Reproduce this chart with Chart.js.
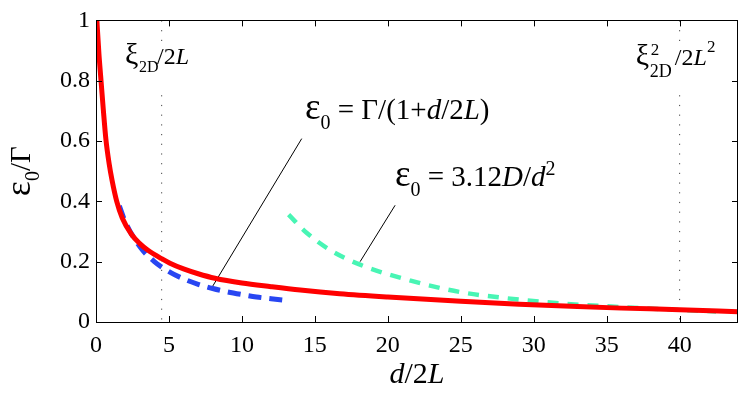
<!DOCTYPE html>
<html>
<head>
<meta charset="utf-8">
<script src="https://cdn.jsdelivr.net/npm/chart.js@4/dist/chart.umd.min.js"></script>
<style>
  html, body { margin: 0; padding: 0; background: #fff; }
  #wrap { width: 747px; height: 393px; }
</style>
</head>
<body>
<div id="wrap"><canvas id="epsChart"></canvas></div>
<script>
// d/2L values and eps0/Gamma
const fullD   = [0.06, 0.2, 0.32, 0.5, 0.68, 0.9, 1.1, 1.42, 1.8, 2.44, 3.0, 3.56, 4.5, 5.07, 6, 7, 8.15, 10, 12, 14, 16.7, 20, 25, 29, 33, 36, 40, 44];
const fullEps = [1.0, 0.89, 0.815, 0.705, 0.605, 0.525, 0.47, 0.40, 0.345, 0.29, 0.26, 0.238, 0.21, 0.195, 0.176, 0.16, 0.145, 0.129, 0.117, 0.106, 0.094, 0.083, 0.069, 0.059, 0.051, 0.046, 0.041, 0.034];

const smallD   = [1.6, 2, 3, 4, 5, 6, 7, 8, 9, 10, 11, 12, 13.3];
const smallEps = [0.385, 0.333, 0.25, 0.20, 0.167, 0.143, 0.125, 0.111, 0.10, 0.091, 0.083, 0.077, 0.070];

const largeD   = [13.2, 14.43, 16, 18.1, 21.5, 25, 28.1, 32, 35, 40, 42.5];
const largeEps = [0.356, 0.296, 0.24, 0.19, 0.138, 0.099, 0.079, 0.061, 0.052, 0.040, 0.035];

// reference lengths xi_2D/2L and xi_2D^2/2L^2
const refD = [4.5, 40];

const xTicksStep = 5;
const yTicksStep = 0.2;

// leader lines from the formula labels to the curves (data units)
const leaderA = [{x: 14.1, y: 0.608}, {x: 8.0, y: 0.119}];
const leaderB = [{x: 20.5, y: 0.387}, {x: 18.1, y: 0.200}];

const toPts = (xs, ys) => xs.map((x, i) => ({x: x, y: ys[i]}));

const SERIF = "'Liberation Serif', 'Times New Roman', serif";

Chart.defaults.font.family = SERIF;
Chart.defaults.font.size = 24;
Chart.defaults.color = '#000';

// draws a run of text pieces; a piece with "x" is placed at that offset
function rich(ctx, x, y, parts) {
  let cx = x;
  parts.forEach(p => {
    ctx.font = (p.it ? 'italic ' : '') + p.size + 'px ' + SERIF;
    if (p.x !== undefined) cx = x + p.x;
    ctx.fillText(p.t, cx, y + (p.dy || 0));
    if (!p.stack) cx += ctx.measureText(p.t).width;
  });
}

const labels = [
  { at: {x: 1.99, y: 0.855}, parts: [
    {t: 'ξ', size: 30}, {t: '2D', size: 16, dy: 8, x: 14},
    {t: '/2', size: 24, x: 32}, {t: 'L', size: 24, it: true}
  ]},
  { at: {x: 37.0, y: 0.852}, parts: [
    {t: 'ξ', size: 30}, {t: '2', size: 17, dy: -10, x: 15, stack: true}, {t: '2D', size: 18, dy: 12, x: 14},
    {t: '/2', size: 24, x: 39}, {t: 'L', size: 24, it: true}, {t: '2', size: 17, dy: -13}
  ]},
  { at: {x: 14.32, y: 0.672}, parts: [
    {t: 'ε', size: 37}, {t: '0', size: 20, dy: 10}, {t: ' = Γ/(1+', size: 29},
    {t: 'd', size: 29, it: true}, {t: '/2', size: 29}, {t: 'L', size: 29, it: true}, {t: ')', size: 29}
  ]},
  { at: {x: 20.49, y: 0.450}, parts: [
    {t: 'ε', size: 37}, {t: '0', size: 20, dy: 10}, {t: ' = 3.12', size: 29},
    {t: 'D', size: 29, it: true}, {t: '/', size: 29}, {t: 'd', size: 29, it: true}, {t: '2', size: 20, dy: -11}
  ]}
];

const decor = {
  id: 'decor',
  afterDraw(chart) {
    const ctx = chart.ctx;
    const a = chart.chartArea;
    const xs = chart.scales.x, ys = chart.scales.y;
    ctx.save();
    ctx.strokeStyle = '#000';
    ctx.lineWidth = 1;
    // frame
    ctx.strokeRect(Math.round(a.left) + 0.5, Math.round(a.top) + 0.5,
      Math.round(a.right - a.left) - 1, Math.round(a.bottom - a.top));
    // inward ticks on all sides
    ctx.beginPath();
    xs.ticks.forEach(t => {
      const px = Math.round(xs.getPixelForValue(t.value)) + 0.5;
      ctx.moveTo(px, a.bottom); ctx.lineTo(px, a.bottom - 6);
      ctx.moveTo(px, a.top); ctx.lineTo(px, a.top + 6);
    });
    ys.ticks.forEach(t => {
      const py = Math.round(ys.getPixelForValue(t.value)) + 0.5;
      ctx.moveTo(a.left, py); ctx.lineTo(a.left + 6, py);
      ctx.moveTo(a.right, py); ctx.lineTo(a.right - 6, py);
    });
    ctx.stroke();

    ctx.fillStyle = '#000';
    ctx.textBaseline = 'alphabetic';
    ctx.textAlign = 'left';
    labels.forEach(l => {
      rich(ctx, xs.getPixelForValue(l.at.x), ys.getPixelForValue(l.at.y), l.parts);
    });

    // x axis title
    const xt = [{t: 'd', size: 30, it: true}, {t: '/2', size: 30}, {t: 'L', size: 30, it: true}];
    let w = 0;
    xt.forEach(p => { ctx.font = (p.it ? 'italic ' : '') + p.size + 'px ' + SERIF; w += ctx.measureText(p.t).width; });
    rich(ctx, (a.left + a.right) / 2 - w / 2, 383, xt);

    // y axis title
    const yt = [{t: 'ε', size: 36}, {t: '0', size: 20, dy: 9}, {t: '/Γ', size: 29}];
    w = 0;
    yt.forEach(p => { ctx.font = p.size + 'px ' + SERIF; w += ctx.measureText(p.t).width; });
    ctx.translate(30, (a.top + a.bottom) / 2 + w / 2);
    ctx.rotate(-Math.PI / 2);
    rich(ctx, 0, 0, yt);
    ctx.restore();
  }
};

const tickFont = { family: SERIF, size: 24, style: 'normal', weight: 'normal' };

const ctx = document.getElementById('epsChart').getContext('2d');
new Chart(ctx, {
  type: 'line',
  data: {
    datasets: [
      {
        label: 'full',
        data: toPts(fullD, fullEps),
        borderColor: '#ff0000',
        borderWidth: 5,
        pointRadius: 0,
        cubicInterpolationMode: 'monotone',
        order: 0
      },
      {
        label: 'small d',
        data: toPts(smallD, smallEps),
        borderColor: '#2846f2',
        borderWidth: 5,
        borderDash: [13, 8],
        pointRadius: 0,
        cubicInterpolationMode: 'monotone',
        order: 1
      },
      {
        label: 'large d',
        data: toPts(largeD, largeEps),
        borderColor: '#48f5b4',
        borderWidth: 4.5,
        borderDash: [11, 9],
        pointRadius: 0,
        cubicInterpolationMode: 'monotone',
        order: 2
      },
      { data: [{x: refD[0], y: 1}, {x: refD[0], y: 0.93}], borderColor: '#444', borderWidth: 1, borderDash: [1.2, 8.5], pointRadius: 0, order: 5 },
      { data: [{x: refD[0], y: 0.752}, {x: refD[0], y: 0}], borderColor: '#444', borderWidth: 1, borderDash: [1.2, 8.5], pointRadius: 0, order: 5 },
      { data: [{x: refD[1], y: 1}, {x: refD[1], y: 0.93}], borderColor: '#444', borderWidth: 1, borderDash: [1.2, 8.5], pointRadius: 0, order: 5 },
      { data: [{x: refD[1], y: 0.752}, {x: refD[1], y: 0}], borderColor: '#444', borderWidth: 1, borderDash: [1.2, 8.5], pointRadius: 0, order: 5 },
      { data: leaderA, borderColor: '#000', borderWidth: 1, pointRadius: 0, order: 4 },
      { data: leaderB, borderColor: '#000', borderWidth: 1, pointRadius: 0, order: 4 }
    ]
  },
  options: {
    responsive: true,
    maintainAspectRatio: false,
    animation: false,
    layout: { padding: { top: 11, right: 9, left: 0, bottom: 0 } },
    plugins: {
      legend: { display: false },
      tooltip: { enabled: false }
    },
    scales: {
      x: {
        type: 'linear',
        min: 0,
        max: 44,
        ticks: {
          stepSize: xTicksStep,
          includeBounds: false,
          maxRotation: 0,
          color: '#000',
          padding: 9,
          font: tickFont
        },
        grid: { display: false, drawTicks: false },
        border: { display: false },
        afterFit(s) { s.height = 71; }
      },
      y: {
        min: 0,
        max: 1,
        ticks: {
          stepSize: yTicksStep,
          color: '#000',
          padding: 6,
          font: tickFont,
          callback: v => String(Number(v.toFixed(2)))
        },
        grid: { display: false, drawTicks: false },
        border: { display: false },
        afterFit(s) { s.width = 96; }
      }
    }
  },
  plugins: [decor]
});
</script>
</body>
</html>
